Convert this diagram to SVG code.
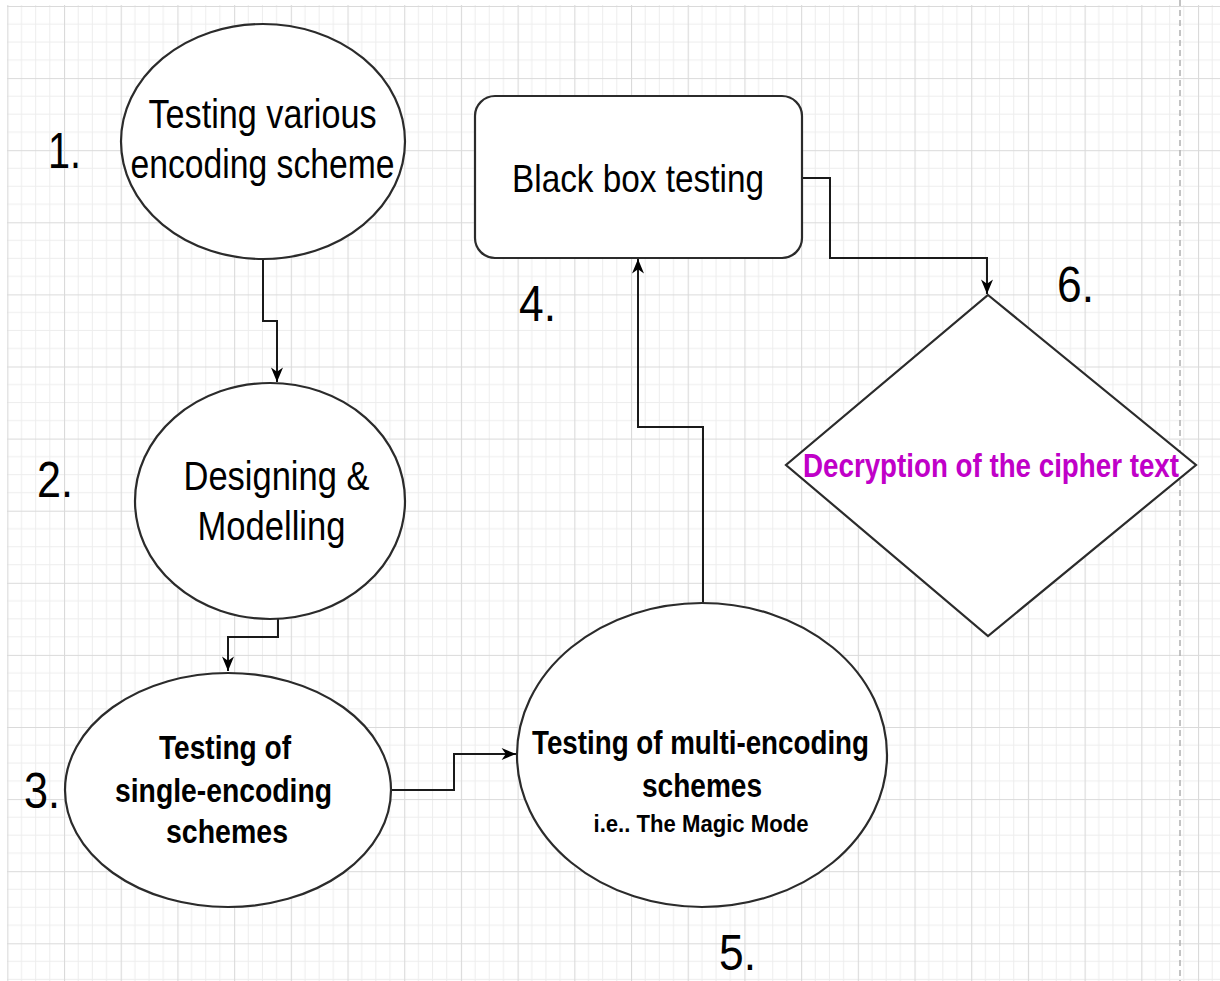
<svg xmlns="http://www.w3.org/2000/svg" width="1220" height="981" viewBox="0 0 1220 981">
<style>
.shape{fill:#ffffff;stroke:#2b2b2b;stroke-width:2.2}
.conn{fill:none;stroke:#1a1a1a;stroke-width:2}
.t{font-family:"Liberation Sans",Arial,sans-serif;fill:#000;text-anchor:middle}
.b{font-weight:bold}
.num{font-family:"Liberation Sans",Arial,sans-serif;font-size:50px;fill:#000}
</style>
<defs>
<pattern id="grid" patternUnits="userSpaceOnUse" x="7.3" y="6" width="56.7" height="72.1">
<path d="M14.17,0V72.1M28.35,0V72.1M42.52,0V72.1M0,18.03H56.7M0,36.05H56.7M0,54.08H56.7" stroke="#ededed" stroke-width="1" fill="none"/>
<path d="M0.5,0V72.1M0,0.5H56.7" stroke="#dadada" stroke-width="1.2" fill="none"/>
</pattern>
<marker id="arr" markerUnits="userSpaceOnUse" viewBox="0 0 12 10" refX="12" refY="5" markerWidth="15" markerHeight="12" orient="auto">
<path d="M0,0 L12,5 L0,10 L3.5,5 z" fill="#000"/>
</marker>
</defs>
<rect x="0" y="0" width="1220" height="981" fill="#ffffff"/>
<rect x="7" y="5" width="1213" height="976" fill="url(#grid)"/>
<line x1="1180" y1="0" x2="1180" y2="981" stroke="#b0b0b0" stroke-width="1.5" stroke-dasharray="6 4"/>

<g id="connectors">
<path class="conn" d="M263,259 V321 H277 V382" marker-end="url(#arr)"/>
<path class="conn" d="M278,619 V637 H228 V671" marker-end="url(#arr)"/>
<path class="conn" d="M391,790 H454 V754 H516" marker-end="url(#arr)"/>
<path class="conn" d="M703,603 V427 H638 V259" marker-end="url(#arr)"/>
<path class="conn" d="M802,178 H830 V258 H987 V294" marker-end="url(#arr)"/>
</g>

<g id="node1">
<ellipse class="shape" cx="263" cy="141.5" rx="142" ry="117.5"/>
<text class="t" x="262.5" y="128" font-size="40" textLength="228" lengthAdjust="spacingAndGlyphs">Testing various</text>
<text class="t" x="262.5" y="178" font-size="40" textLength="264" lengthAdjust="spacingAndGlyphs">encoding scheme</text>
</g>

<g id="node2">
<ellipse class="shape" cx="270" cy="501" rx="135" ry="118"/>
<text class="t" x="276.5" y="490" font-size="40" textLength="186" lengthAdjust="spacingAndGlyphs">Designing &amp;</text>
<text class="t" x="271.5" y="540" font-size="40" textLength="148" lengthAdjust="spacingAndGlyphs">Modelling</text>
</g>

<g id="node3">
<ellipse class="shape" cx="228" cy="790" rx="163" ry="117"/>
<text class="t b" x="225" y="759" font-size="33" textLength="132" lengthAdjust="spacingAndGlyphs">Testing of</text>
<text class="t b" x="223.5" y="802" font-size="33" textLength="217" lengthAdjust="spacingAndGlyphs">single-encoding</text>
<text class="t b" x="227" y="843" font-size="33" textLength="122" lengthAdjust="spacingAndGlyphs">schemes</text>
</g>

<g id="node5">
<ellipse class="shape" cx="702" cy="755" rx="185" ry="152"/>
<text class="t b" x="700.5" y="754" font-size="33" textLength="337" lengthAdjust="spacingAndGlyphs">Testing of multi-encoding</text>
<text class="t b" x="702" y="797" font-size="33" textLength="120" lengthAdjust="spacingAndGlyphs">schemes</text>
<text class="t b" x="701" y="832" font-size="23" textLength="215" lengthAdjust="spacingAndGlyphs">i.e.. The Magic Mode</text>
</g>

<g id="node4">
<rect class="shape" x="475" y="96" width="327" height="162" rx="20" ry="20"/>
<text class="t" x="638" y="192" font-size="39" textLength="252" lengthAdjust="spacingAndGlyphs">Black box testing</text>
</g>

<g id="node6">
<polygon class="shape" points="988,295 1196,465 988,636 786,465"/>
<text class="t b" x="991" y="477" font-size="33" style="fill:#c000c8" textLength="376" lengthAdjust="spacingAndGlyphs">Decryption of the cipher text</text>
</g>

<g id="labels">
<text class="num" x="48" y="168" textLength="33" lengthAdjust="spacingAndGlyphs">1.</text>
<text class="num" x="37" y="497" textLength="36" lengthAdjust="spacingAndGlyphs">2.</text>
<text class="num" x="24" y="808" textLength="36" lengthAdjust="spacingAndGlyphs">3.</text>
<text class="num" x="519" y="321" textLength="37" lengthAdjust="spacingAndGlyphs">4.</text>
<text class="num" x="719" y="970" textLength="37" lengthAdjust="spacingAndGlyphs">5.</text>
<text class="num" x="1057" y="302" textLength="37" lengthAdjust="spacingAndGlyphs">6.</text>
</g>
</svg>
